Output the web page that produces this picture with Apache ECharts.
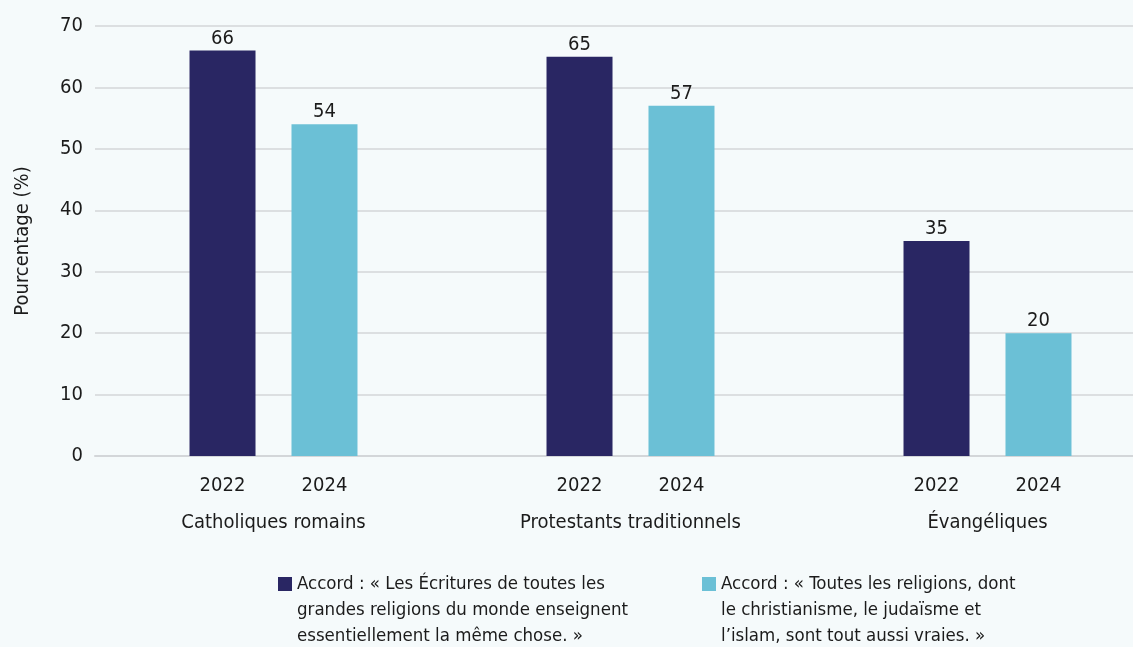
<!DOCTYPE html>
<html>
<head>
<meta charset="utf-8">
<script src="https://cdn.jsdelivr.net/npm/echarts@6/dist/echarts.min.js"></script>
<style>
  html, body { margin: 0; padding: 0; background: #f5fafb; }
  #chart { width: 1133px; height: 647px; }
</style>
</head>
<body>
<div id="chart"></div>
<script>
var groups = ['Catholiques romains', 'Protestants traditionnels', 'Évangéliques']
var years = ['2022', '2024']
var values2022 = [66, 65, 35]
var values2024 = [54, 57, 20]
var yTicks = [0, 10, 20, 30, 40, 50, 60, 70]
var legendNames = [
  'Accord : « Les Écritures de toutes les\ngrandes religions du monde enseignent\nessentiellement la même chose. »',
  'Accord : « Toutes les religions, dont\nle christianisme, le judaïsme et\nl’islam, sont tout aussi vraies. »'
]

var font = '"Liberation Sans Narrow", "DejaVu Sans Condensed", "Roboto", sans-serif'
var ink = '#1b1b1b'
var chart = echarts.init(document.getElementById('chart'))

var labelTop = {
  show: true,
  position: 'top',
  distance: 2,
  color: ink,
  fontFamily: font,
  fontSize: 20
}

// leading blank lines keep the icon level with the first text line
function legendText(name) {
  return '\n\n' + name
}

var legendStyle = { color: ink, fontFamily: font, fontSize: 18.5, lineHeight: 26 }

var option = {
  backgroundColor: '#f5fafb',
  textStyle: { fontFamily: font },
  grid: { left: 95, right: -33, top: 26, bottom: 191, containLabel: false, outerBoundsMode: 'none' },
  legend: [
    {
      data: [legendNames[0]],
      left: 273, top: 514,
      itemWidth: 14, itemHeight: 14,
      icon: 'rect',
      formatter: legendText,
      textStyle: legendStyle
    },
    {
      data: [legendNames[1]],
      left: 697, top: 514,
      itemWidth: 14, itemHeight: 14,
      icon: 'rect',
      formatter: legendText,
      textStyle: legendStyle
    }
  ],
  xAxis: {
    type: 'category',
    data: groups,
    axisTick: { show: false },
    axisLine: { lineStyle: { color: '#d3d6d9', width: 2 } },
    axisLabel: {
      margin: 12,
      formatter: function (v) {
        return '{y|' + years[0] + '}{sp|}{y|' + years[1] + '}\n{c|' + v + '}'
      },
      rich: {
        y: { width: 58, align: 'center', fontSize: 20, color: ink, fontFamily: font, lineHeight: 36 },
        sp: { width: 44 },
        c: { fontSize: 20, color: ink, fontFamily: font, lineHeight: 38, align: 'center' }
      }
    }
  },
  yAxis: {
    type: 'value',
    min: 0, max: 70, interval: 10,
    name: 'Pourcentage (%)',
    nameLocation: 'middle',
    nameGap: 62,
    nameTextStyle: { color: ink, fontFamily: font, fontSize: 20 },
    axisLabel: {
      color: ink, fontFamily: font, fontSize: 20, margin: 12,
      formatter: function (v) { return yTicks.indexOf(v) >= 0 ? String(v) : '' }
    },
    splitLine: { lineStyle: { color: '#d3d6d9', width: 1.5 } }
  },
  series: [
    {
      name: legendNames[0],
      type: 'bar',
      data: values2022,
      barWidth: 66,
      barGap: '54.5%',
      itemStyle: { color: '#292663' },
      label: labelTop
    },
    {
      name: legendNames[1],
      type: 'bar',
      data: values2024,
      barWidth: 66,
      itemStyle: { color: '#6bc0d6' },
      label: labelTop
    }
  ]
}

option && chart.setOption(option)
</script>
</body>
</html>
